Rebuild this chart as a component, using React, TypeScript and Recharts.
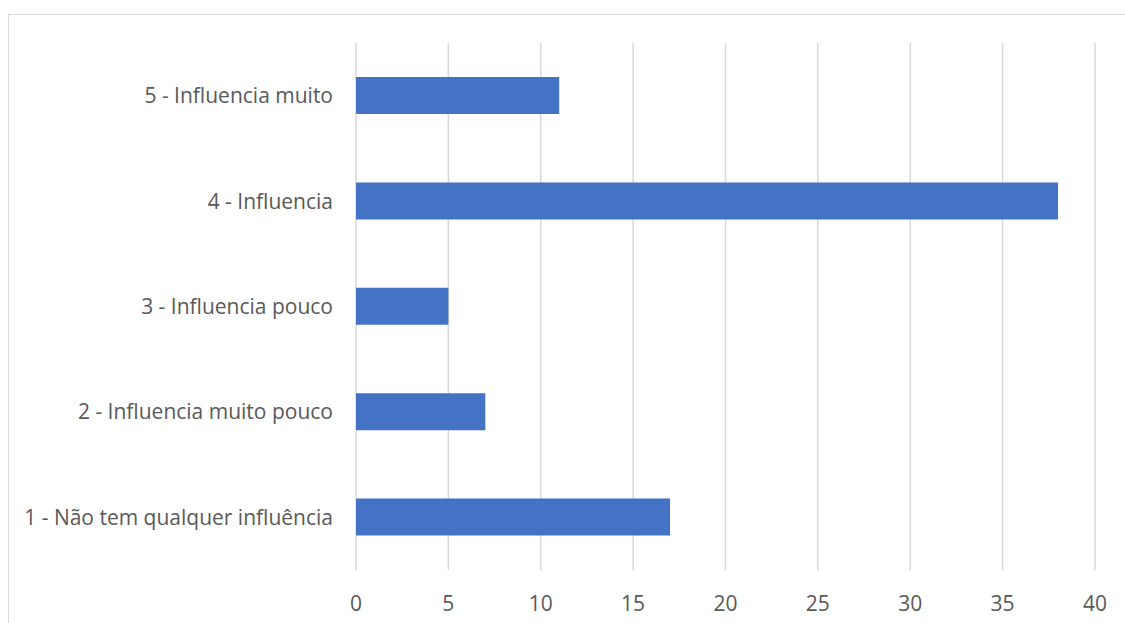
import { BarChart, Bar, XAxis, YAxis, CartesianGrid } from "recharts";

const categories = [
  "5 - Influencia muito",
  "4 - Influencia",
  "3 - Influencia pouco",
  "2 - Influencia muito pouco",
  "1 - Não tem qualquer influência",
];
const counts = [11, 38, 5, 7, 17];
const xTicks = [0, 5, 10, 15, 20, 25, 30, 35, 40];

const data = categories.map((name, i) => ({ name, value: counts[i] }));

const textStyle = { fill: "#595959", fontSize: 21, fontFamily: "'Open Sans', sans-serif" };

export default function App() {
  return (
    <div
      style={{
        position: "absolute",
        left: 0,
        top: 0,
        width: 1125,
        height: 623,
        overflow: "hidden",
        background: "#fff",
      }}
    >
      <div
        style={{
          position: "absolute",
          left: 8,
          top: 14,
          width: 1300,
          height: 800,
          borderTop: "1.5px solid #d9d9d9",
          borderLeft: "1.5px solid #d9d9d9",
        }}
      />
      <div style={{ position: "absolute", left: 0, top: 0 }}>
        <BarChart
          width={1125}
          height={623}
          data={data}
          layout="vertical"
          margin={{ top: 43, right: 30, left: 0, bottom: 0 }}
        >
          <CartesianGrid horizontal={false} stroke="#d9d9d9" strokeWidth={1.5} />
          <XAxis
            type="number"
            domain={[0, 40]}
            ticks={xTicks}
            axisLine={false}
            tickLine={false}
            tickMargin={20}
            height={53}
            tick={textStyle}
            interval={0}
          />
          <YAxis
            type="category"
            dataKey="name"
            width={356}
            axisLine={false}
            tickLine={false}
            tickMargin={17}
            tick={textStyle}
            interval={0}
          />
          <Bar dataKey="value" fill="#4472c4" barSize={37} isAnimationActive={false} />
        </BarChart>
      </div>
    </div>
  );
}
